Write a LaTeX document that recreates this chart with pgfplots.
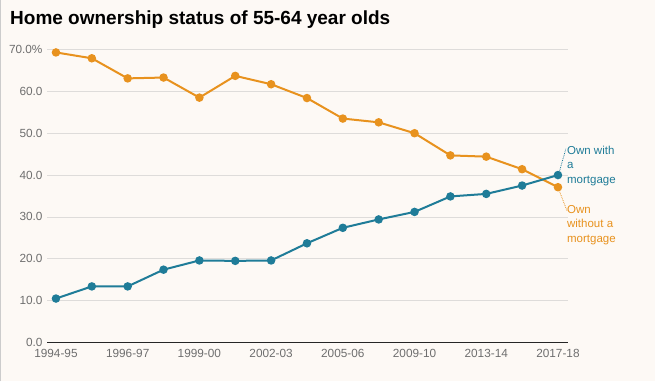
\documentclass[border=0pt]{standalone}
\usepackage{pgfplots}
\pgfplotsset{compat=1.18}
\usepackage{fontspec}
\setmainfont{Liberation Sans}
\definecolor{bg}{HTML}{FDF9F5}
\definecolor{ora}{HTML}{E8921E}
\definecolor{blu}{HTML}{1F7C98}
\definecolor{gridc}{HTML}{DEDCDA}
\definecolor{tickc}{HTML}{6E6E6E}
\begin{document}
\begin{tikzpicture}[x=1pt,y=1pt]
\fill[bg] (0,0) rectangle (655,381);
\draw[gray!40, line width=1pt] (0.5,0) -- (0.5,381);
\node[anchor=base west, inner sep=0, font=\bfseries\fontsize{19}{22}\selectfont] at (10,357) {Home ownership status of 55-64 year olds};
\begin{axis}[
  at={(47pt,39pt)}, anchor=south west,
  scale only axis, width=521pt, height=293pt,
  xmin=-0.25, xmax=14.28, ymin=0, ymax=70,
  axis line style={draw=none},
  clip=false,
  xtick={0,2,4,6,8,10,12,14},
  xticklabels={1994-95,1996-97,1999-00,2002-03,2005-06,2009-10,2013-14,2017-18},
  ytick={0,10,20,30,40,50,60,70},
  yticklabels={0.0,10.0,20.0,30.0,40.0,50.0,60.0,70.0\%},
  ymajorgrids, grid style={gridc, line width=0.8pt},
  major tick length=0pt,
  tick label style={font=\fontsize{11.8}{13}\selectfont, text=tickc},
  /pgf/number format/assume math mode=true,
  xticklabel style={yshift=-3pt},
  yticklabel style={xshift=-1pt},
]
\draw[black!85, line width=1.2pt] (axis cs:-0.25,0) -- (axis cs:14.28,0);
\addplot[ora, line width=2pt, mark=*, mark size=3.2pt, mark options={solid}] coordinates {
(0,69.3) (1,67.9) (2,63.1) (3,63.3) (4,58.5) (5,63.7) (6,61.7) (7,58.4) (8,53.5) (9,52.6) (10,50.0) (11,44.7) (12,44.4) (13,41.4) (14,37.1)};
\addplot[blu, line width=2pt, mark=*, mark size=3.2pt, mark options={solid}] coordinates {
(0,10.5) (1,13.4) (2,13.4) (3,17.4) (4,19.6) (5,19.5) (6,19.6) (7,23.7) (8,27.4) (9,29.4) (10,31.2) (11,34.9) (12,35.5) (13,37.5) (14,40.0)};
\draw[blu, densely dotted, line width=0.8pt] (axis cs:14.03,40.5) -- (axis cs:14.22,46.3);
\draw[ora, densely dotted, line width=0.8pt] (axis cs:14.03,36.4) -- (axis cs:14.25,31.5);
\node[anchor=north west, inner sep=0, align=left, text=blu, font=\fontsize{11.5}{14.5}\selectfont] at (axis cs:14.25,47.0) {Own with\\a\\mortgage};
\node[anchor=north west, inner sep=0, align=left, text=ora, font=\fontsize{11.5}{14.5}\selectfont] at (axis cs:14.25,32.8) {Own\\without a\\mortgage};
\end{axis}
\end{tikzpicture}
\end{document}
